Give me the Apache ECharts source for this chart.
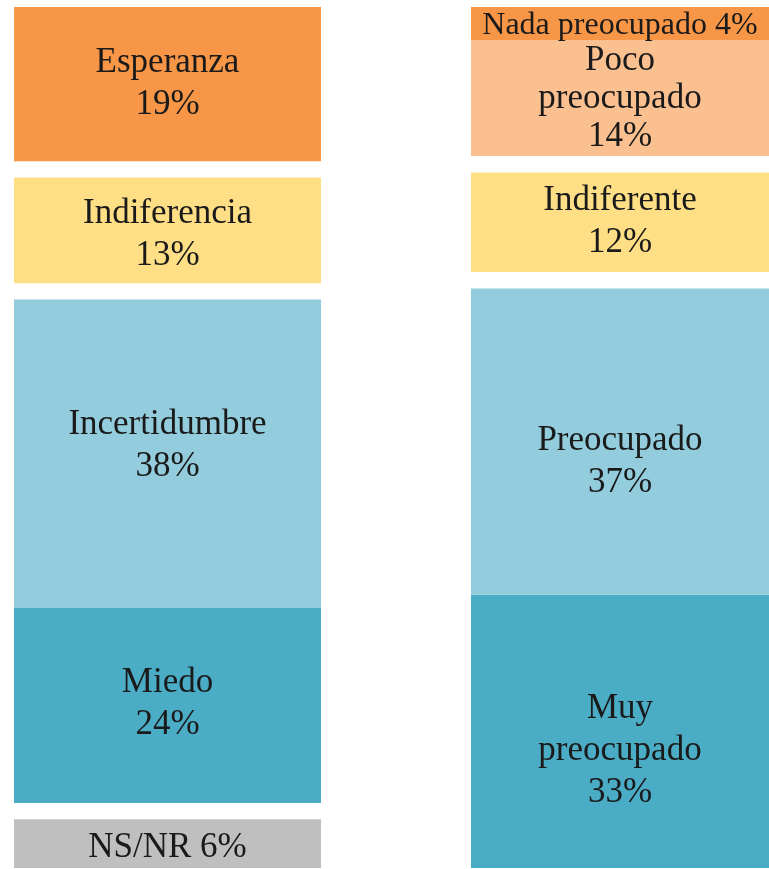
<!DOCTYPE html>
<html>
<head>
<meta charset="utf-8">
<script src="https://cdn.jsdelivr.net/npm/echarts@6/dist/echarts.min.js"></script>
<style>
  html, body { margin: 0; padding: 0; background: #fff; }
  #chart { width: 769px; height: 869px; }
</style>
</head>
<body>
<div id="chart"></div>
<script>
// columna izquierda (de arriba a abajo)
const leftNames = ['Esperanza', 'Indiferencia', 'Incertidumbre', 'Miedo', 'NS/NR'];
const leftValues = [19, 13, 38, 24, 6];
// columna derecha (de arriba a abajo)
const rightNames = ['Nada preocupado', 'Poco\npreocupado', 'Indiferente', 'Preocupado', 'Muy\npreocupado'];
const rightValues = [4, 14, 12, 37, 33];

// espacio en blanco entre bloques
const GAP = 2;
const leftGapsAfter = ['Esperanza', 'Indiferencia', 'Miedo'];
const rightGapsAfter = ['Poco\npreocupado', 'Indiferente'];

const colors = {
    'Esperanza': '#F79646',
    'Indiferencia': '#FFDF85',
    'Incertidumbre': '#93CDDD',
    'Miedo': '#4BACC6',
    'NS/NR': '#BFBFBF',
    'Nada preocupado': '#F79646',
    'Poco\npreocupado': '#FAC090',
    'Indiferente': '#FFDF85',
    'Preocupado': '#93CDDD',
    'Muy\npreocupado': '#4BACC6'
};
const oneLine = ['NS/NR', 'Nada preocupado'];
const labelStyle = {
    'Nada preocupado': { fontSize: 32, offset: [0, 2] },
    'Poco\npreocupado': { lineHeight: 38, offset: [0, 1] },
    'Indiferencia': { offset: [0, 4] },
    'Incertidumbre': { offset: [0, -8] },
    'Miedo': { offset: [0, -2] },
    'NS/NR': { offset: [0, 4] },
    'Preocupado': { offset: [0, 20] },
    'Muy\npreocupado': { offset: [0, 19] }
};

const chart = echarts.init(document.getElementById('chart'));

function buildSeries(names, values, gapsAfter, idx) {
    // lista de arriba a abajo, luego se invierte para apilar desde abajo
    const blocks = [];
    names.forEach((name, i) => {
        blocks.push({ name: name, value: values[i] });
        if (gapsAfter.includes(name)) blocks.push({ name: null, value: GAP });
    });
    return blocks.reverse().map((b) => {
        if (b.name === null) {
            return {
                type: 'bar', stack: 's' + idx, xAxisIndex: idx, yAxisIndex: idx,
                barWidth: '100%', silent: true,
                itemStyle: { color: 'rgba(0,0,0,0)' },
                data: [b.value]
            };
        }
        const extra = labelStyle[b.name] || {};
        return {
            type: 'bar', stack: 's' + idx, xAxisIndex: idx, yAxisIndex: idx,
            name: b.name, barWidth: '100%',
            itemStyle: { color: colors[b.name] },
            label: {
                show: true,
                position: 'inside',
                color: '#1a1a1a',
                fontFamily: "'Liberation Serif', 'Times New Roman', serif",
                fontSize: extra.fontSize || 35,
                lineHeight: extra.lineHeight || 42,
                offset: extra.offset || [0, 0],
                formatter: b.name + (oneLine.includes(b.name) ? ' ' : '\n') + b.value + '%'
            },
            data: [b.value]
        };
    });
}

const total = (vals, gaps) => vals.reduce((a, b) => a + b, 0) + gaps.length * GAP;

chart.setOption({
    animation: false,
    grid: [
        { left: 14, width: 307, top: 7, bottom: 1 },
        { left: 471, right: 0, top: 7, bottom: 1 }
    ],
    xAxis: [
        { type: 'category', gridIndex: 0, data: ['a'], show: false },
        { type: 'category', gridIndex: 1, data: ['b'], show: false }
    ],
    yAxis: [
        { type: 'value', gridIndex: 0, min: 0, max: total(leftValues, leftGapsAfter), show: false },
        { type: 'value', gridIndex: 1, min: 0, max: total(rightValues, rightGapsAfter), show: false }
    ],
    series: [
        ...buildSeries(leftNames, leftValues, leftGapsAfter, 0),
        ...buildSeries(rightNames, rightValues, rightGapsAfter, 1)
    ]
});
</script>
</body>
</html>
